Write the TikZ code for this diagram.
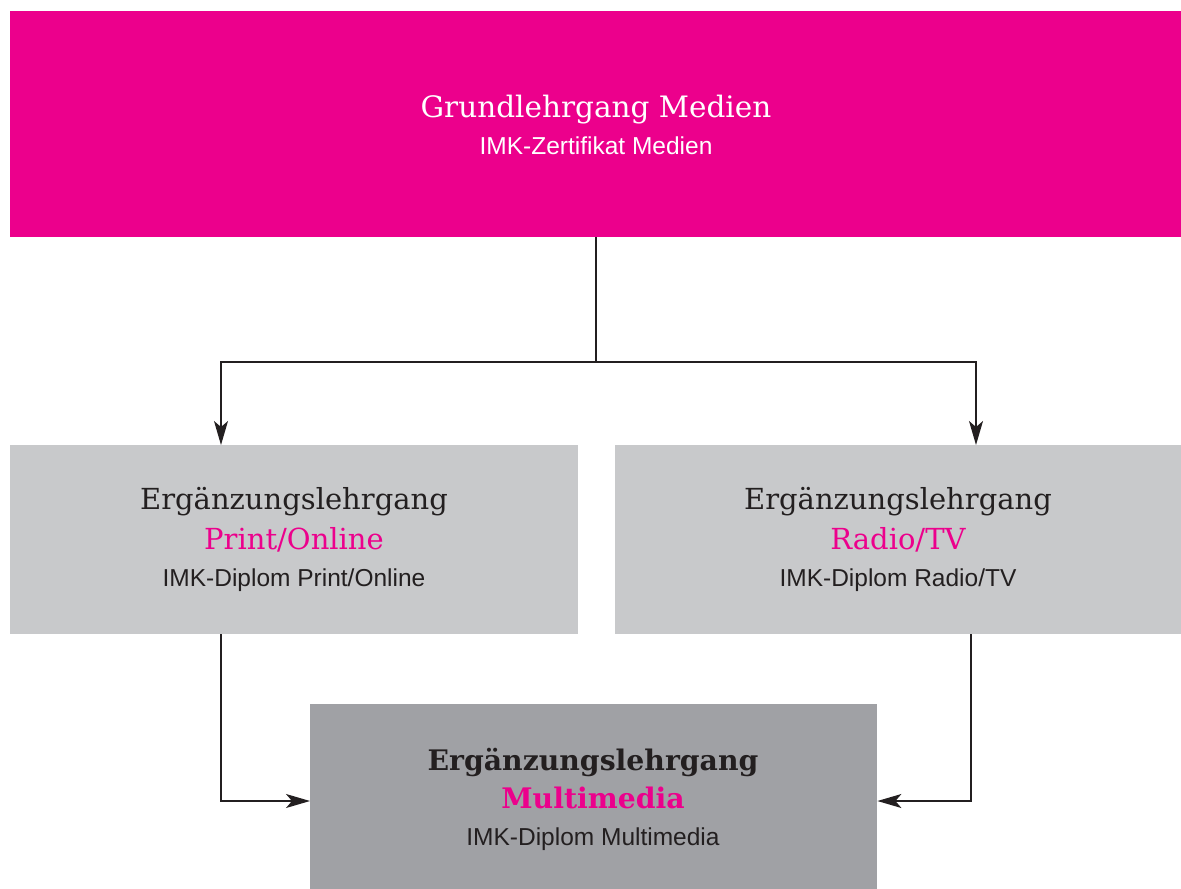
\documentclass[tikz,border=0pt]{standalone}
\usepackage{fontspec}
\setmainfont{DejaVu Serif}
\setsansfont{Liberation Sans}
\usetikzlibrary{arrows.meta}
\definecolor{imkpink}{HTML}{EC008C}
\definecolor{lightbox}{HTML}{C8C9CB}
\definecolor{darkbox}{HTML}{A0A1A5}
\definecolor{ink}{HTML}{231F20}
\tikzset{
  boxshape/.style={inner sep=0pt, anchor=north west},
  headtext/.style={font=\fontsize{29}{33}\selectfont, text=ink, inner sep=0pt, anchor=base},
  boldtext/.style={font=\bfseries\fontsize{28.3}{33}\selectfont, text=ink, inner sep=0pt, anchor=base},
  subtext/.style={font=\sffamily\fontsize{24.5}{28}\selectfont, text=ink, inner sep=0pt, anchor=base},
  conn/.style={draw=ink, line width=1.3pt},
  arr/.style={conn, -{Stealth[length=24pt, width=14pt, inset=6pt]}},
}
\begin{document}
\begin{tikzpicture}[x=1pt,y=-1pt]
\useasboundingbox (0,0) rectangle (1181,889);
% boxes
\node[boxshape, fill=imkpink, minimum width=1171pt, minimum height=226pt] (top) at (10,11) {};
\node[boxshape, fill=lightbox, minimum width=568pt, minimum height=189pt] (pl) at (10,445) {};
\node[boxshape, fill=lightbox, minimum width=566pt, minimum height=189pt] (rt) at (615,445) {};
\node[boxshape, fill=darkbox, minimum width=567pt, minimum height=185pt] (mm) at (310,704) {};
% texts
\node[headtext, text=white, font=\fontsize{29.5}{33}\selectfont] (t1) at (596,117) {Grundlehrgang Medien};
\node[subtext, text=white] (t2) at (596,154) {IMK-Zertifikat Medien};
\node[headtext] (p1) at (294,509) {Ergänzungslehrgang};
\node[headtext, text=imkpink] (p2) at (294,549) {Print/Online};
\node[subtext] (p3) at (294,586) {IMK-Diplom Print/Online};
\node[headtext] (r1) at (898,509) {Ergänzungslehrgang};
\node[headtext, text=imkpink] (r2) at (898,549) {Radio/TV};
\node[subtext] (r3) at (898,586) {IMK-Diplom Radio/TV};
\node[boldtext] (m1) at (593,770) {Ergänzungslehrgang};
\node[boldtext, text=imkpink] (m2) at (593,808) {Multimedia};
\node[subtext] (m3) at (593,845) {IMK-Diplom Multimedia};
% connector points
\coordinate (split) at (596,362);
\coordinate (plin) at (221,445);
\coordinate (rtin) at (976,445);
\coordinate (plout) at (221,634);
\coordinate (rtout) at (971,634);
\coordinate (mmy) at (0,801);
% connectors
\draw[conn] (596,237) -- (split);
\draw[arr] (split) -| (plin);
\draw[arr] (split) -| (rtin);
\draw[arr] (plout) |- (mm.west |- mmy);
\draw[arr] (rtout) |- (mm.east |- mmy);
\end{tikzpicture}
\end{document}
